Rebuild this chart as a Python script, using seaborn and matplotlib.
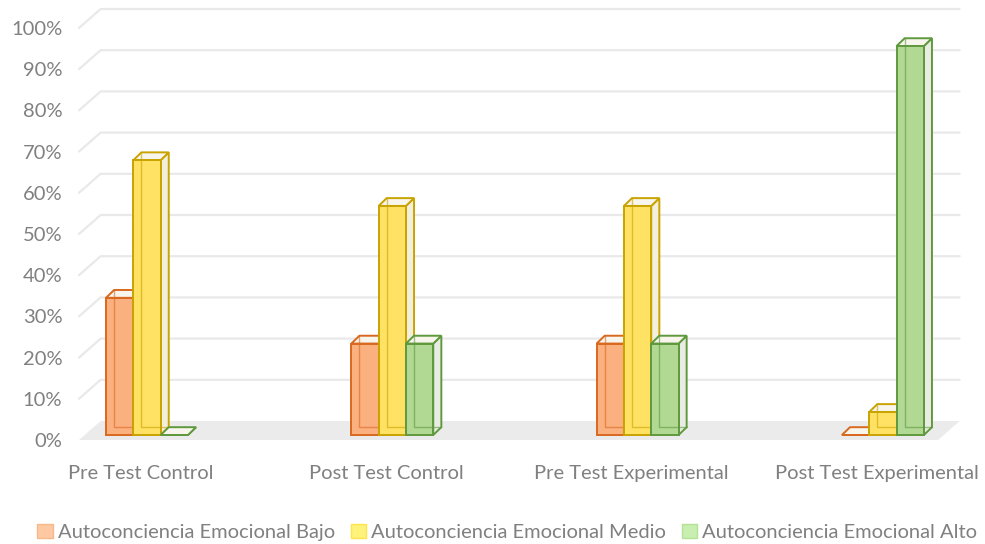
import matplotlib
matplotlib.use("Agg")
import matplotlib.pyplot as plt
from matplotlib.patches import Polygon, Patch
import seaborn as sns
import pandas as pd

# data (n = 18 per group)
categories = ["Pre Test Control", "Post Test Control", "Pre Test Experimental", "Post Test Experimental"]
levels = ["Autoconciencia Emocional Bajo", "Autoconciencia Emocional Medio", "Autoconciencia Emocional Alto"]
bajo = [0.333, 0.222, 0.222, 0.0]
medio = [0.667, 0.556, 0.556, 0.056]
alto = [0.0, 0.222, 0.222, 0.944]
y_ticks = [0.0, 0.1, 0.2, 0.3, 0.4, 0.5, 0.6, 0.7, 0.8, 0.9, 1.0]

face_colors = ["#fbb07f", "#ffe264", "#b1d994"]
edge_colors = ["#d9691f", "#c9a300", "#5f993d"]
side_colors = ["#f4ebe1", "#f3efdf", "#e9ece3"]
legend_fill = ["#fdc8a2", "#fff27a", "#c8efb0"]
legend_edge = ["#f7b98c", "#ffe44d", "#b3e296"]
text_color = "#808080"

sns.set_theme(style="white")
plt.rcParams["font.family"] = ["Lato", "DejaVu Sans"]

df = pd.DataFrame({
    "Grupo": categories * 3,
    "Nivel": [lv for lv in levels for _ in categories],
    "Valor": bajo + medio + alto,
})

fig = plt.figure(figsize=(9.85, 5.44), dpi=100)
ax = fig.add_axes([0.0745, 0.1776, 0.909, 0.818])

sns.barplot(data=df, x="Grupo", y="Valor", hue="Nivel", hue_order=levels,
            order=categories, palette=face_colors, width=0.334, saturation=1,
            legend=False, ax=ax)
ax.set_xlim(-0.30, 3.35)
ax.set_ylim(-0.03, 1.05)

# chart depth (floor / back wall) and bar depth, in data units
fx0, fx1 = -0.277, 3.225
gdx, gy_front, gy_back = 0.088, -0.012, 0.034
bdx, bdy = 0.033, 0.019

# floor
ax.add_patch(Polygon([(fx0, gy_front), (fx1, gy_front), (fx1 + gdx, gy_back), (fx0 + gdx, gy_back)],
                     closed=True, facecolor="#ebebeb", edgecolor="none", zorder=0.5, clip_on=False))
# back wall gridlines
for t in y_ticks[1:]:
    ax.plot([fx0, fx0 + gdx, fx1 + gdx], [t + gy_front, t + gy_back, t + gy_back],
            color="#e9e9e9", lw=1.6, zorder=0.6, clip_on=False)

# turn flat bars into wireframe-looking boxes
for i, cont in enumerate(ax.containers):
    base = 3 + 2 * i
    ec = edge_colors[i]
    for p in cont.patches:
        x, w, h = p.get_x(), p.get_width(), p.get_height()
        p.set_edgecolor(ec)
        p.set_linewidth(1.4)
        p.set_zorder(base + 0.5)
        ax.add_patch(Polygon([(x + w, 0), (x + w + bdx, bdy), (x + w + bdx, h + bdy), (x + w, h)],
                             closed=True, facecolor=side_colors[i], edgecolor=ec, lw=1.4,
                             zorder=base, clip_on=False))
        ax.add_patch(Polygon([(x, h), (x + w, h), (x + w + bdx, h + bdy), (x + bdx, h + bdy)],
                             closed=True, facecolor="#f8f5ec", edgecolor=ec, lw=1.4,
                             zorder=base + 0.1, clip_on=False))
        if h > 0:
            ax.plot([x + bdx, x + bdx, x + w + bdx], [h + bdy, bdy, bdy],
                    color=ec, lw=1.0, alpha=0.6, zorder=base + 0.6, clip_on=False)

# axes text
ax.set_yticks([t + gy_front for t in y_ticks], labels=[f"{int(round(t * 100))}%" for t in y_ticks])
ax.set_xticks([k - 0.025 for k in range(len(categories))], labels=categories)
ax.tick_params(axis="y", length=0, pad=8, labelsize=14.5, labelcolor=text_color)
ax.tick_params(axis="x", length=0, pad=13, labelsize=14.5, labelcolor=text_color)
ax.set_xlabel("")
ax.set_ylabel("")
for s in ax.spines.values():
    s.set_visible(False)
ax.grid(False)

handles = [Patch(facecolor=legend_fill[i], edgecolor=legend_edge[i], lw=1) for i in range(3)]
fig.legend(handles, levels, loc="lower center", bbox_to_anchor=(0.515, -0.028), ncol=3,
           frameon=False, fontsize=14.5, labelcolor=text_color, handlelength=0.75,
           handleheight=0.75, handletextpad=0.25, columnspacing=0.8)

fig.savefig("out.png", dpi=100, facecolor="white")
